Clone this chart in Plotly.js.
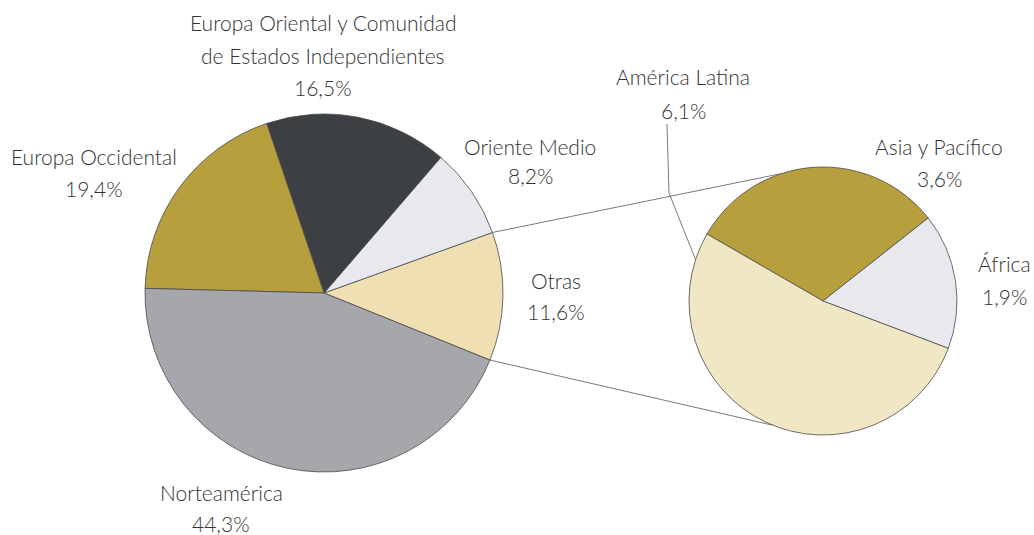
<!DOCTYPE html>
<html>
<head>
<meta charset="utf-8">
<script src="https://cdn.plot.ly/plotly-3.0.1.min.js"></script>
<style>html,body{margin:0;padding:0;background:#fff;}#chart{width:1034px;height:535px;}</style>
</head>
<body>
<div id="chart"></div>
<script>
// Main pie data
const mainLabels = ["Otras", "Oriente Medio", "Europa Oriental y Comunidad de Estados Independientes", "Europa Occidental", "Norteamérica"];
const mainValues = [11.6, 8.2, 16.5, 19.4, 44.3];
const mainColors = ["#efdfb3", "#e7e9ee", "#3c4044", "#b89f3e", "#a5a7ac"];

// Breakdown of "Otras"
const subLabels = ["Asia y Pacífico", "África", "América Latina"];
const subValues = [3.6, 1.9, 6.1];
const subColors = ["#b89f3e", "#e7e9ee", "#f2e7c5"];

// Label text lines
const labelLines = {
  "Europa Oriental y Comunidad de Estados Independientes": ["Europa Oriental y Comunidad", "de Estados Independientes"],
  "Europa Occidental": ["Europa Occidental"],
  "Oriente Medio": ["Oriente Medio"],
  "Otras": ["Otras"],
  "Norteamérica": ["Norteamérica"],
  "América Latina": ["América Latina"],
  "Asia y Pacífico": ["Asia y Pacífico"],
  "África": ["África"]
};

function fmt(v){ return v.toFixed(1).replace('.', ',') + '%'; }

// Layout geometry (pixels)
const W = 1034, H = 535;
const L = {cx: 324, cy: 293, r: 179, startMath: -22};
const R = {cx: 823, cy: 301, r: 134, startMath: 150};

function px(x){ return x / W; }
function py(y){ return (H - y) / H; }
function onCircle(c, angDeg){
  const a = angDeg * Math.PI / 180;
  return [c.cx + c.r * Math.cos(a), c.cy - c.r * Math.sin(a)];
}

const mainTotal = mainValues.reduce((a,b)=>a+b,0);
const otrasEnd = L.startMath + mainValues[0] / mainTotal * 360;
const pUpperL = onCircle(L, otrasEnd);
const pLowerL = onCircle(L, L.startMath);
const pUpperR = onCircle(R, 108);
const pLowerR = onCircle(R, -112);
const pLeaderEnd = onCircle(R, 162);

const traces = [
  {
    type: 'pie', labels: mainLabels, values: mainValues, sort: false,
    direction: 'counterclockwise', rotation: 90 - otrasEnd,
    marker: {colors: mainColors, line: {color: '#4a4a4a', width: 0.8}},
    textinfo: 'none', hoverinfo: 'label+percent', showlegend: false,
    domain: {x: [px(L.cx - L.r), px(L.cx + L.r)], y: [py(L.cy + L.r), py(L.cy - L.r)]}
  },
  {
    type: 'pie', labels: subLabels, values: subValues, sort: false,
    direction: 'clockwise', rotation: 90 - R.startMath,
    marker: {colors: subColors, line: {color: '#4a4a4a', width: 0.8}},
    textinfo: 'none', hoverinfo: 'label+value', showlegend: false,
    domain: {x: [px(R.cx - R.r), px(R.cx + R.r)], y: [py(R.cy + R.r), py(R.cy - R.r)]}
  }
];

// label anchor: [x center, y of first line, line spacing]
const labelPos = {
  "Europa Oriental y Comunidad de Estados Independientes": [323, 22, 33],
  "Europa Occidental": [94, 157, 31],
  "Oriente Medio": [530, 147, 29],
  "Otras": [556, 280, 31],
  "Norteamérica": [221, 492, 31],
  "América Latina": [683, 77, 33],
  "Asia y Pacífico": [939, 146, 32],
  "África": [1004, 263, 33]
};

const annotations = [];
function addLabel(lab, val){
  const p = labelPos[lab];
  const lines = labelLines[lab].concat([fmt(val)]);
  lines.forEach((t, k) => {
    annotations.push({x: px(p[0]), y: py(p[1] + k * p[2]), xref: 'paper', yref: 'paper', showarrow: false,
      text: t, xanchor: 'center', yanchor: 'middle', align: 'center'});
  });
}
mainLabels.forEach((lab, i) => addLabel(lab, mainValues[i]));
subLabels.forEach((lab, i) => addLabel(lab, subValues[i]));

const lineStyle = {color: '#6a6a6a', width: 0.9};
const shapes = [
  {type: 'line', xref: 'paper', yref: 'paper', x0: px(pUpperL[0]), y0: py(pUpperL[1]), x1: px(pUpperR[0]), y1: py(pUpperR[1]), line: lineStyle},
  {type: 'line', xref: 'paper', yref: 'paper', x0: px(pLowerL[0]), y0: py(pLowerL[1]), x1: px(pLowerR[0]), y1: py(pLowerR[1]), line: lineStyle},
  {type: 'path', xref: 'paper', yref: 'paper',
    path: 'M ' + px(667) + ',' + py(124) + ' L ' + px(669) + ',' + py(193) + ' L ' + px(pLeaderEnd[0]) + ',' + py(pLeaderEnd[1]),
    line: lineStyle}
];

const layout = {
  width: W, height: H,
  margin: {l: 0, r: 0, t: 0, b: 0, pad: 0},
  paper_bgcolor: '#ffffff', plot_bgcolor: '#ffffff',
  font: {family: 'Lato, "Open Sans", sans-serif', size: 21, color: '#333333', weight: 300},
  showlegend: false,
  annotations: annotations,
  shapes: shapes
};

Plotly.newPlot('chart', traces, layout, {displayModeBar: false, staticPlot: true});
</script>
</body>
</html>
